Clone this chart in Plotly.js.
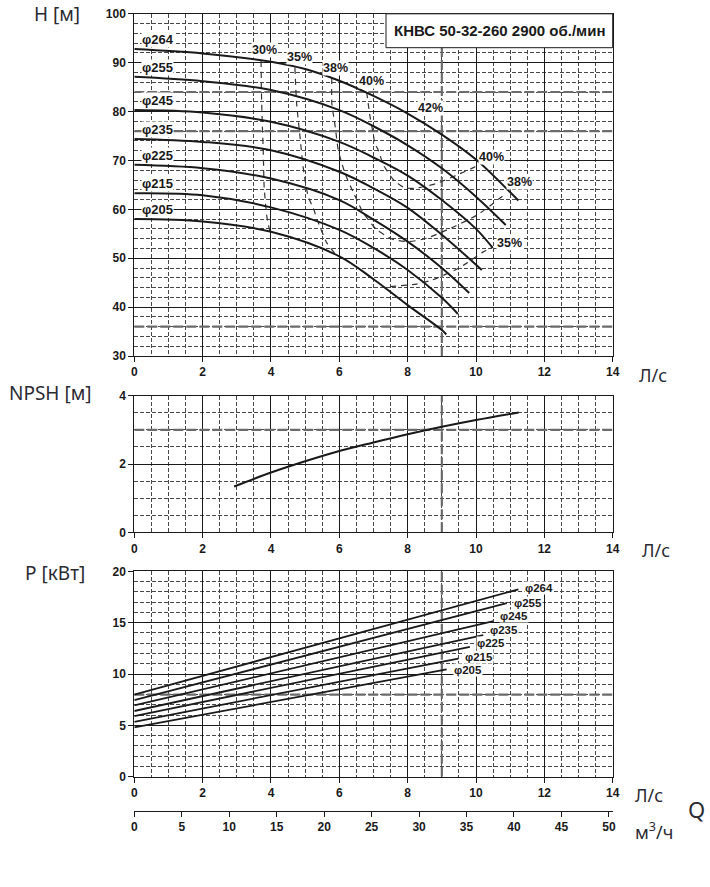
<!DOCTYPE html>
<html>
<head>
<meta charset="utf-8">
<script src="https://cdn.plot.ly/plotly-3.0.1.min.js"></script>
<style>
  html, body { margin: 0; padding: 0; background: #fff; }
  #chart { width: 710px; height: 887px; }
</style>
</head>
<body>
<div id="chart"></div>
<script>
/* Pump curve sheet: head / NPSH / power against flow, КНВС 50-32-260 */

// ── Data ────────────────────────────────────────────────────────────────
const impellers = ['φ264', 'φ255', 'φ245', 'φ235', 'φ225', 'φ215', 'φ205'];

// Head H [м] per impeller diameter
const headQ264 = [0, 2, 4, 5, 6, 7, 8, 9, 10, 11, 11.24];
const headH264 = [92.8, 91.9, 90.2, 88.7, 86.3, 83.2, 79.6, 75.3, 70.2, 63.5, 61.8];
const headQ255 = [0, 2, 4, 6, 7, 8, 9, 10, 10.87];
const headH255 = [87.1, 86.2, 84.4, 80.3, 77.0, 73.1, 68.4, 62.6, 56.8];
const headQ245 = [0, 2, 4, 6, 7, 8, 9, 10, 10.49];
const headH245 = [80.3, 79.8, 77.9, 73.8, 70.6, 66.9, 61.9, 56.0, 52.1];
const headQ235 = [0, 2, 4, 6, 7, 8, 9, 10.17];
const headH235 = [74.4, 73.8, 72.1, 67.7, 64.3, 60.3, 54.8, 47.6];
const headQ225 = [0, 2, 4, 6, 7, 8, 9, 9.8];
const headH225 = [69.1, 68.4, 66.3, 61.9, 57.9, 53.4, 48.0, 42.9];
const headQ215 = [0, 2, 4, 6, 7, 8, 9, 9.47];
const headH215 = [63.3, 62.9, 60.4, 55.8, 52.1, 47.6, 41.9, 38.6];
const headQ205 = [0, 2, 4, 6, 7, 8, 9, 9.13];
const headH205 = [58.0, 57.5, 55.4, 50.4, 45.7, 40.4, 35.3, 34.4];

// Iso-efficiency lines (dashed)
const eff30Q = [3.71, 3.72, 3.74, 3.78, 3.80, 3.88, 3.97];
const eff30H = [90.4, 84.0, 78.9, 70.1, 64.6, 58.5, 55.4];
const eff35Q = [4.70, 4.75, 4.85, 4.94, 5.09, 5.24, 5.40, 5.63, 5.90];
const eff35H = [89.0, 81.7, 74.8, 68.7, 62.6, 60.2, 57.0, 53.2, 50.7];
const eff35bQ = [7.48, 8.26, 8.70, 9.14, 9.39, 9.73, 10.21, 10.50];
const eff35bH = [44.2, 44.7, 45.5, 46.8, 47.6, 49.0, 51.3, 52.3];
const eff38Q = [5.78, 5.78, 5.88, 5.97, 6.17, 6.42, 6.71, 7.10, 7.59, 8.05, 8.56, 9.34, 10.02, 10.50, 10.90];
const eff38H = [86.9, 81.7, 76.9, 72.1, 67.3, 63.3, 59.2, 55.8, 53.8, 53.4, 54.1, 56.4, 58.8, 61.2, 63.4];
const eff40Q = [6.80, 6.90, 6.99, 7.04, 7.14, 7.29, 7.59, 7.92, 8.20, 8.85, 9.53, 9.97, 10.05];
const eff40H = [84.0, 78.9, 75.5, 73.5, 72.1, 69.1, 66.0, 64.4, 64.3, 65.3, 67.3, 68.7, 69.3];

const effLabelText = ['30%', '35%', '38%', '40%', '42%', '40%', '38%', '35%'];
const effLabelQ = [3.80, 4.82, 5.90, 6.93, 8.68, 10.44, 11.26, 10.97];
const effLabelH = [92.6, 91.2, 88.9, 86.2, 80.7, 70.7, 65.6, 53.2];

// NPSH [м]
const npshQ = [2.92, 4, 5, 6, 7, 8, 9, 10, 11.25];
const npshV = [1.34, 1.75, 2.08, 2.38, 2.63, 2.87, 3.09, 3.29, 3.51];

// Power P [кВт] (straight lines, start and end points)
const powerQ264 = [0, 11.24], powerP264 = [8.0, 18.25];
const powerQ255 = [0, 10.90], powerP255 = [7.45, 16.9];
const powerQ245 = [0, 10.51], powerP245 = [6.95, 15.15];
const powerQ235 = [0, 10.21], powerP235 = [6.4, 13.8];
const powerQ225 = [0, 9.82], powerP225 = [5.9, 12.65];
const powerQ215 = [0, 9.48], powerP215 = [5.35, 11.5];
const powerQ205 = [0, 9.14], powerP205 = [4.8, 10.45];

// Duty point reference lines
const dutyQ = 9;
const dutyHead = [36, 76, 84];
const dutyNpsh = [3];
const dutyPower = [8];

// Axis ranges and second flow scale (м³/ч)
const flowRange = [0, 14];
const headRange = [30, 100];
const npshRange = [0, 4];
const powerRange = [0, 20];
const m3hTicks = [0, 5, 10, 15, 20, 25, 30, 35, 40, 45, 50];

// ── Page geometry (pixels of the 710x887 sheet) ─────────────────────────
const W = 710, H = 887;
const px = v => v / W;
const py = v => 1 - v / H;
const X_DOMAIN = [px(134.3), px(612.7)];

const INK = '#1a1a1a';
const tickFont = { family: '"Liberation Sans", Arial, sans-serif', size: 12, color: INK, weight: 'bold' };
const labelFont = { family: '"Liberation Sans", Arial, sans-serif', size: 13, color: INK, weight: 'bold' };
const unitFont = { family: '"Noto Sans", "Open Sans", sans-serif', size: 18, color: '#2b2b33' };

function gridAxis(extra, minorStep) {
  return Object.assign({
    showgrid: true, gridcolor: INK, gridwidth: 1,
    minor: { dtick: minorStep, showgrid: true, gridcolor: '#474747', gridwidth: 1, griddash: '4px,2px', ticks: '' },
    showline: true, mirror: true, linecolor: INK, linewidth: 1,
    ticks: 'outside', ticklen: 5, tickwidth: 1, tickcolor: INK,
    tickfont: tickFont, zeroline: false, fixedrange: true,
  }, extra);
}

// ── Traces ──────────────────────────────────────────────────────────────
const traces = [];
const dutyLine = { color: '#6b6b6b', width: 2.2, dash: '10px,3px' };

// duty reference lines go first so the curves sit on top
[['x', 'y', headRange, dutyHead], ['x2', 'y2', npshRange, dutyNpsh], ['x3', 'y3', powerRange, dutyPower]]
  .forEach(([xa, ya, yr, levels]) => {
    traces.push({
      type: 'scatter', mode: 'lines', x: [dutyQ, dutyQ], y: yr, xaxis: xa, yaxis: ya,
      line: dutyLine, hoverinfo: 'skip', showlegend: false,
    });
    levels.forEach(v => {
      traces.push({
        type: 'scatter', mode: 'lines', x: flowRange, y: [v, v], xaxis: xa, yaxis: ya,
        line: dutyLine, hoverinfo: 'skip', showlegend: false,
      });
    });
  });

const headQs = [headQ264, headQ255, headQ245, headQ235, headQ225, headQ215, headQ205];
const headHs = [headH264, headH255, headH245, headH235, headH225, headH215, headH205];
const powerQs = [powerQ264, powerQ255, powerQ245, powerQ235, powerQ225, powerQ215, powerQ205];
const powerPs = [powerP264, powerP255, powerP245, powerP235, powerP225, powerP215, powerP205];

const effQs = [eff30Q, eff35Q, eff35bQ, eff38Q, eff40Q];
const effHs = [eff30H, eff35H, eff35bH, eff38H, eff40H];
effQs.forEach((q, i) => {
  traces.push({
    type: 'scatter', mode: 'lines', x: q, y: effHs[i], xaxis: 'x', yaxis: 'y',
    line: { color: '#333', width: 1.2, dash: '6px,5px', shape: 'spline', smoothing: 0.6 },
    hoverinfo: 'skip', showlegend: false,
  });
});

headQs.forEach((q, i) => {
  traces.push({
    type: 'scatter', mode: 'lines', x: q, y: headHs[i], xaxis: 'x', yaxis: 'y',
    line: { color: INK, width: 2, shape: 'spline', smoothing: 1 },
    name: impellers[i], showlegend: false,
  });
});

traces.push({
  type: 'scatter', mode: 'lines', x: npshQ, y: npshV, xaxis: 'x2', yaxis: 'y2',
  line: { color: INK, width: 2, shape: 'spline' }, name: 'NPSH', showlegend: false,
});

powerQs.forEach((q, i) => {
  traces.push({
    type: 'scatter', mode: 'lines', x: q, y: powerPs[i], xaxis: 'x3', yaxis: 'y3',
    line: { color: INK, width: 1.8 }, name: impellers[i], showlegend: false,
  });
});

// carrier for the м³/ч scale
traces.push({
  type: 'scatter', mode: 'markers', x: m3hTicks, y: m3hTicks.map(() => 0),
  xaxis: 'x4', yaxis: 'y4', marker: { opacity: 0 }, hoverinfo: 'skip', showlegend: false,
});

// ── Title box ───────────────────────────────────────────────────────────
const shapes = [{
  type: 'rect', xref: 'paper', yref: 'paper',
  x0: px(386), x1: X_DOMAIN[1], y0: py(47.7), y1: py(13.8),
  fillcolor: '#fff', line: { color: INK, width: 1 }, layer: 'above',
}];

// ── Annotations ─────────────────────────────────────────────────────────
const annotations = [];
annotations.push({
  xref: 'paper', yref: 'paper', x: (px(386) + X_DOMAIN[1]) / 2, y: (py(47.7) + py(13.8)) / 2,
  text: 'КНВС 50-32-260 2900 об./мин', showarrow: false, xanchor: 'center', yanchor: 'middle',
  font: { family: '"Liberation Sans", Arial, sans-serif', size: 15, color: INK, weight: 'bold' },
});

headHs.forEach((h, i) => {
  annotations.push({
    xref: 'x', yref: 'y', x: 0.2, y: h[0], text: impellers[i], showarrow: false,
    xanchor: 'left', yanchor: 'bottom', yshift: 1, bgcolor: '#fff', borderpad: 0, font: labelFont,
  });
});

effLabelText.forEach((t, i) => {
  annotations.push({
    xref: 'x', yref: 'y', x: effLabelQ[i], y: effLabelH[i], text: t, showarrow: false,
    xanchor: 'center', yanchor: 'middle', bgcolor: '#fff', borderpad: 0,
    font: Object.assign({}, labelFont, { size: 12.5 }),
  });
});

// power labels sit just past the line ends, spread a little so they do not collide
const powerLabelNudge = [1, 0, 5, 5.5, 4, 2, -0.5];
powerQs.forEach((q, i) => {
  annotations.push({
    xref: 'x3', yref: 'y3', x: q[q.length - 1], y: powerPs[i][powerPs[i].length - 1],
    text: impellers[i], showarrow: false, xanchor: 'left', yanchor: 'middle',
    xshift: 6, yshift: powerLabelNudge[i], bgcolor: '#fff', borderpad: 0,
    font: Object.assign({}, labelFont, { size: 11.5 }),
  });
});

// axis names and units
const textAt = (text, x, y, xanchor, font) => ({
  xref: 'paper', yref: 'paper', x: px(x), y: py(y), text, showarrow: false,
  xanchor, yanchor: 'middle', font: font || unitFont,
});
const nameFont = Object.assign({}, unitFont, { size: 19 });
annotations.push(textAt('H [м]', 82, 14, 'right', nameFont));
annotations.push(textAt('NPSH [м]', 93, 393, 'right', nameFont));
annotations.push(textAt('P [кВт]', 87, 573, 'right', nameFont));
annotations.push(textAt('Л/с', 637, 375, 'left'));
annotations.push(textAt('Л/с', 640, 550, 'left'));
annotations.push(textAt('Л/с', 633, 795, 'left'));
annotations.push(textAt('м<sup>3</sup>/ч', 633, 831, 'left'));
annotations.push(textAt('Q', 686, 809, 'left', Object.assign({}, unitFont, { size: 22 })));

// ── Layout ──────────────────────────────────────────────────────────────
const layout = {
  width: W, height: H,
  margin: { l: 0, r: 0, t: 0, b: 0, pad: 0 },
  paper_bgcolor: '#fff', plot_bgcolor: '#fff',
  showlegend: false,
  xaxis: gridAxis({ domain: X_DOMAIN, anchor: 'y', range: flowRange, tick0: 0, dtick: 2 }, 0.5),
  yaxis: gridAxis({ domain: [py(356), py(13.8)], anchor: 'x', range: headRange, tick0: 0, dtick: 10 }, 2),
  xaxis2: gridAxis({ domain: X_DOMAIN, anchor: 'y2', range: flowRange, tick0: 0, dtick: 2 }, 0.5),
  yaxis2: gridAxis({ domain: [py(532.3), py(395.7)], anchor: 'x2', range: npshRange, tick0: 0, dtick: 2 }, 0.5),
  xaxis3: gridAxis({ domain: X_DOMAIN, anchor: 'y3', range: flowRange, tick0: 0, dtick: 2 }, 0.5),
  yaxis3: gridAxis({ domain: [py(776.7), py(571.4)], anchor: 'x3', range: powerRange, tick0: 0, dtick: 5 }, 1),
  xaxis4: {
    domain: X_DOMAIN, anchor: 'y4', range: [flowRange[0] * 3.6, flowRange[1] * 3.6], tickvals: m3hTicks,
    showgrid: false, zeroline: false, showline: true, linecolor: INK, linewidth: 1,
    ticks: 'outside', ticklen: 5, tickcolor: INK, tickfont: tickFont, fixedrange: true,
  },
  yaxis4: { domain: [py(810.7), py(809.7)], anchor: 'x4', range: [0, 1], showgrid: false, zeroline: false,
    showline: false, showticklabels: false, ticks: '', fixedrange: true },
  shapes, annotations,
};

Plotly.newPlot('chart', traces, layout, { staticPlot: true, displayModeBar: false });
</script>
</body>
</html>
